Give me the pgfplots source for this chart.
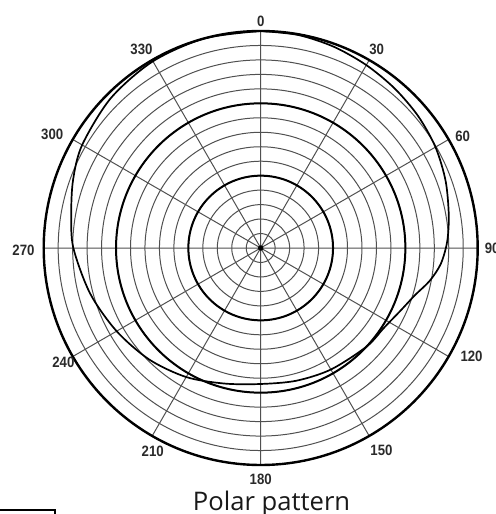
\documentclass[border=0pt]{standalone}
\usepackage{pgfplots}
\usepackage{pgfplotstable}
\pgfplotsset{compat=1.18}
\usepgfplotslibrary{polar}
\usepackage{fontspec}
\setmainfont{Liberation Sans}
\newfontfamily\capfont{Open Sans}
\definecolor{gridgray}{HTML}{505050}
\definecolor{labgray}{HTML}{2A2A2A}
\pgfplotstableread{
t r
0 15.0
10 14.95
20 14.8
30 14.6
40 14.4
50 14.2
60 13.95
70 13.6
80 13.2
88 12.9
95 12.5
101 11.9
107 11.15
114 10.6
123 10.15
133 10.0
150 9.7
165 9.5
180 9.4
195 9.7
210 10.3
225 10.9
240 11.5
255 12.2
270 12.95
280 13.3
290 13.8
300 14.25
315 14.65
330 14.9
345 15.0
360 15.0
}\patterndata
\begin{document}
\begin{tikzpicture}
\useasboundingbox (0,0) rectangle (248pt,257pt);
\clip (0,0) rectangle (248pt,257pt);
\begin{polaraxis}[
  at={(130.35pt,133pt)}, anchor=center,
  scale only axis, width=217pt, height=217pt,
  clip=false,
  xmin=0, xmax=360, ymin=0, ymax=15,
  xtick={0,30,...,330}, xticklabels={},
  ytick={1,...,15}, yticklabels={},
  extra y ticks={5,10}, extra y tick labels={},
  extra y tick style={grid=major, major grid style={black, line width=1pt}},
  grid=major,
  major grid style={gridgray, line width=0.5pt},
  major tick length=0pt,
  axis line style={black, line width=1.2pt},
  y axis line style={draw=none},
]
\addplot[black, line width=0.85pt, smooth] table[x expr={90-\thisrow{t}}, y=r] {\patterndata};
\addplot[only marks, mark=*, mark size=1.1pt, black] coordinates {(0,0)};
\node[font=\fontsize{7.5}{8}\selectfont\bfseries, text=labgray, inner sep=0pt] at (axis cs:90,15.67) {\scalebox{0.88}[1]{0}};
\node[font=\fontsize{7.5}{8}\selectfont\bfseries, text=labgray, inner sep=0pt] at (axis cs:59.7,15.9) {\scalebox{0.88}[1]{30}};
\node[font=\fontsize{7.5}{8}\selectfont\bfseries, text=labgray, inner sep=0pt] at (axis cs:29,15.96) {\scalebox{0.88}[1]{60}};
\node[font=\fontsize{7.5}{8}\selectfont\bfseries, text=labgray, inner sep=0pt] at (axis cs:0,16.0) {\scalebox{0.88}[1]{90}};
\node[font=\fontsize{7.5}{8}\selectfont\bfseries, text=labgray, inner sep=0pt] at (axis cs:-27.3,16.4) {\scalebox{0.88}[1]{120}};
\node[font=\fontsize{7.5}{8}\selectfont\bfseries, text=labgray, inner sep=0pt] at (axis cs:-59.2,16.3) {\scalebox{0.88}[1]{150}};
\node[font=\fontsize{7.5}{8}\selectfont\bfseries, text=labgray, inner sep=0pt] at (axis cs:-90,16.0) {\scalebox{0.88}[1]{180}};
\node[font=\fontsize{7.5}{8}\selectfont\bfseries, text=labgray, inner sep=0pt] at (axis cs:-118,15.9) {\scalebox{0.88}[1]{210}};
\node[font=\fontsize{7.5}{8}\selectfont\bfseries, text=labgray, inner sep=0pt] at (axis cs:-150,15.75) {\scalebox{0.88}[1]{240}};
\node[font=\fontsize{7.5}{8}\selectfont\bfseries, text=labgray, inner sep=0pt] at (axis cs:180.5,16.4) {\scalebox{0.88}[1]{270}};
\node[font=\fontsize{7.5}{8}\selectfont\bfseries, text=labgray, inner sep=0pt] at (axis cs:151.5,16.4) {\scalebox{0.88}[1]{300}};
\node[font=\fontsize{7.5}{8}\selectfont\bfseries, text=labgray, inner sep=0pt] at (axis cs:121,16.0) {\scalebox{0.88}[1]{330}};
\end{polaraxis}
\node[anchor=base, inner sep=0pt, font=\capfont\fontsize{12.8}{14}\selectfont, text=black!90] at (135.8pt,1.8pt) {Polar pattern};
\draw[black, line width=0.75pt] (-1pt,2pt) -- (27.5pt,2pt) -- (27.5pt,-2pt);
\end{tikzpicture}
\end{document}
